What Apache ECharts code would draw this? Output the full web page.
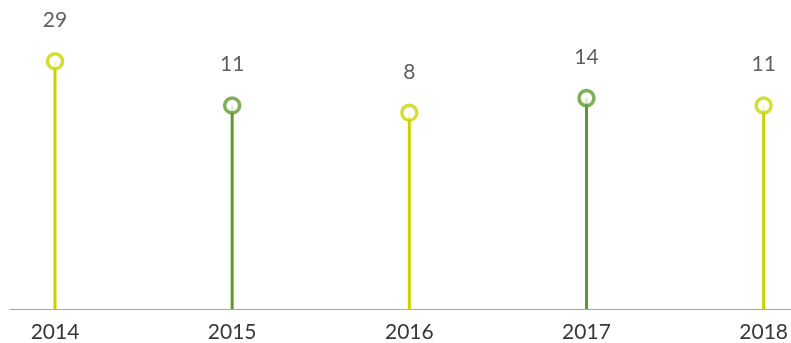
<!DOCTYPE html>
<html><head><meta charset="utf-8">
<script src="https://cdn.jsdelivr.net/npm/echarts@6/dist/echarts.min.js"></script>
<style>html,body{margin:0;padding:0;background:#fff}#c{width:791px;height:343px}</style>
</head><body><div id="c"></div>
<script>
var categories = ['2014', '2015', '2016', '2017', '2018'];
var values = [29, 11, 8, 14, 11];
var colorIndex = [0, 1, 0, 1, 0];
var palette = ['#c8d400', '#5e9a2b'];
var yMin = -72, yMax = 54;

var chart = echarts.init(document.getElementById('c'));
var font = 'Lato, "Noto Sans", sans-serif';
chart.setOption({
  animation: false,
  grid: [
    {left: 55, right: 26, top: 0, bottom: 34},
    {left: 10, right: 0, top: 0, bottom: 34}
  ],
  xAxis: [
    {type: 'category', gridIndex: 0, data: categories, boundaryGap: false,
     axisLine: {show: false}, axisTick: {show: false},
     axisLabel: {color: '#383838', fontSize: 21, fontFamily: font, margin: 13}},
    {type: 'category', gridIndex: 1, data: categories, boundaryGap: false,
     axisLine: {show: true, onZero: false, lineStyle: {color: '#a8a8a8', width: 1}},
     axisTick: {show: false}, axisLabel: {show: false}}
  ],
  yAxis: [
    {type: 'value', gridIndex: 0, min: yMin, max: yMax, show: false},
    {type: 'value', gridIndex: 1, min: yMin, max: yMax, show: false}
  ],
  series: [
    {type: 'custom', xAxisIndex: 0, yAxisIndex: 0, z: 2,
     data: values.map(function (v, i) { return [i, v]; }),
     renderItem: function (params, api) {
       var i = api.value(0);
       var p0 = api.coord([i, yMin]);
       var p1 = api.coord([i, api.value(1)]);
       return {type: 'line', shape: {x1: p0[0], y1: p0[1], x2: p1[0], y2: p1[1]},
               style: {stroke: palette[colorIndex[params.dataIndex]], lineWidth: 3}};
     }},
    {type: 'scatter', xAxisIndex: 0, yAxisIndex: 0, z: 3,
     symbol: 'circle', symbolSize: 15,
     data: values.map(function (v, i) {
       return {value: [i, v], itemStyle: {color: '#fff', borderColor: palette[colorIndex[i]], borderWidth: 3.5}};
     }),
     label: {show: true, position: 'top', distance: 21, color: '#383838', fontSize: 21, fontFamily: font,
             formatter: function (p) { return p.value[1]; }}}
  ]
});
</script></body></html>
